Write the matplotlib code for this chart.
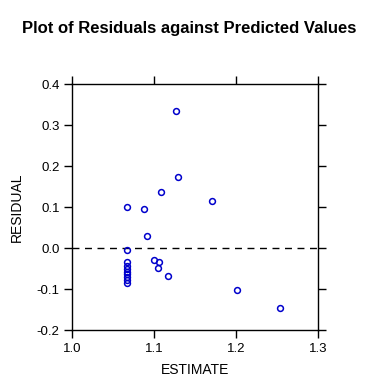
import matplotlib
matplotlib.use("Agg")
import matplotlib.pyplot as plt

# predicted values and residuals
estimate = [1.1265, 1.129, 1.108, 1.171, 1.067, 1.088, 1.091, 1.067,
            1.1005, 1.106, 1.105, 1.117, 1.201, 1.254,
            1.067, 1.067, 1.067, 1.067, 1.067, 1.067, 1.067, 1.067]
residual = [0.333, 0.172, 0.136, 0.115, 0.101, 0.095, 0.029, -0.005,
            -0.030, -0.035, -0.048, -0.068, -0.102, -0.146,
            -0.035, -0.045, -0.052, -0.058, -0.063, -0.070, -0.077, -0.085]

xticks = [1.0, 1.1, 1.2, 1.3]
yticks = [-0.2, -0.1, 0.0, 0.1, 0.2, 0.3, 0.4]

plt.rcParams['font.family'] = ['Liberation Sans', 'DejaVu Sans']

fig = plt.figure(figsize=(3.70, 3.84), dpi=100)
ax = fig.add_axes([0.1946, 0.1406, 0.6649, 0.6406])

ax.axhline(0, color='black', lw=1, ls=(0, (5, 4)))
ax.plot(estimate, residual, 'o', mfc='none', mec='#0000cc', ms=4.2, mew=1.1)

ax.set_xlim(1.0, 1.3)
ax.set_ylim(-0.2, 0.4)
ax.set_xticks(xticks)
ax.set_xticklabels([f'{t:.1f}' for t in xticks])
ax.set_yticks(yticks)
ax.set_yticklabels([f'{t:.1f}' for t in yticks])
ax.tick_params(direction='out', length=6, width=1, labelsize=9.5,
               top=True, right=True, pad=3)
for s in ax.spines.values():
    s.set_linewidth(1)

ax.set_xlabel('ESTIMATE', fontsize=10, labelpad=6)
ax.set_ylabel('RESIDUAL', fontsize=10, labelpad=9)
fig.text(0.51, 0.925, 'Plot of Residuals against Predicted Values',
         ha='center', va='center', fontsize=12, fontweight='bold')

fig.savefig('out.png', dpi=100)
